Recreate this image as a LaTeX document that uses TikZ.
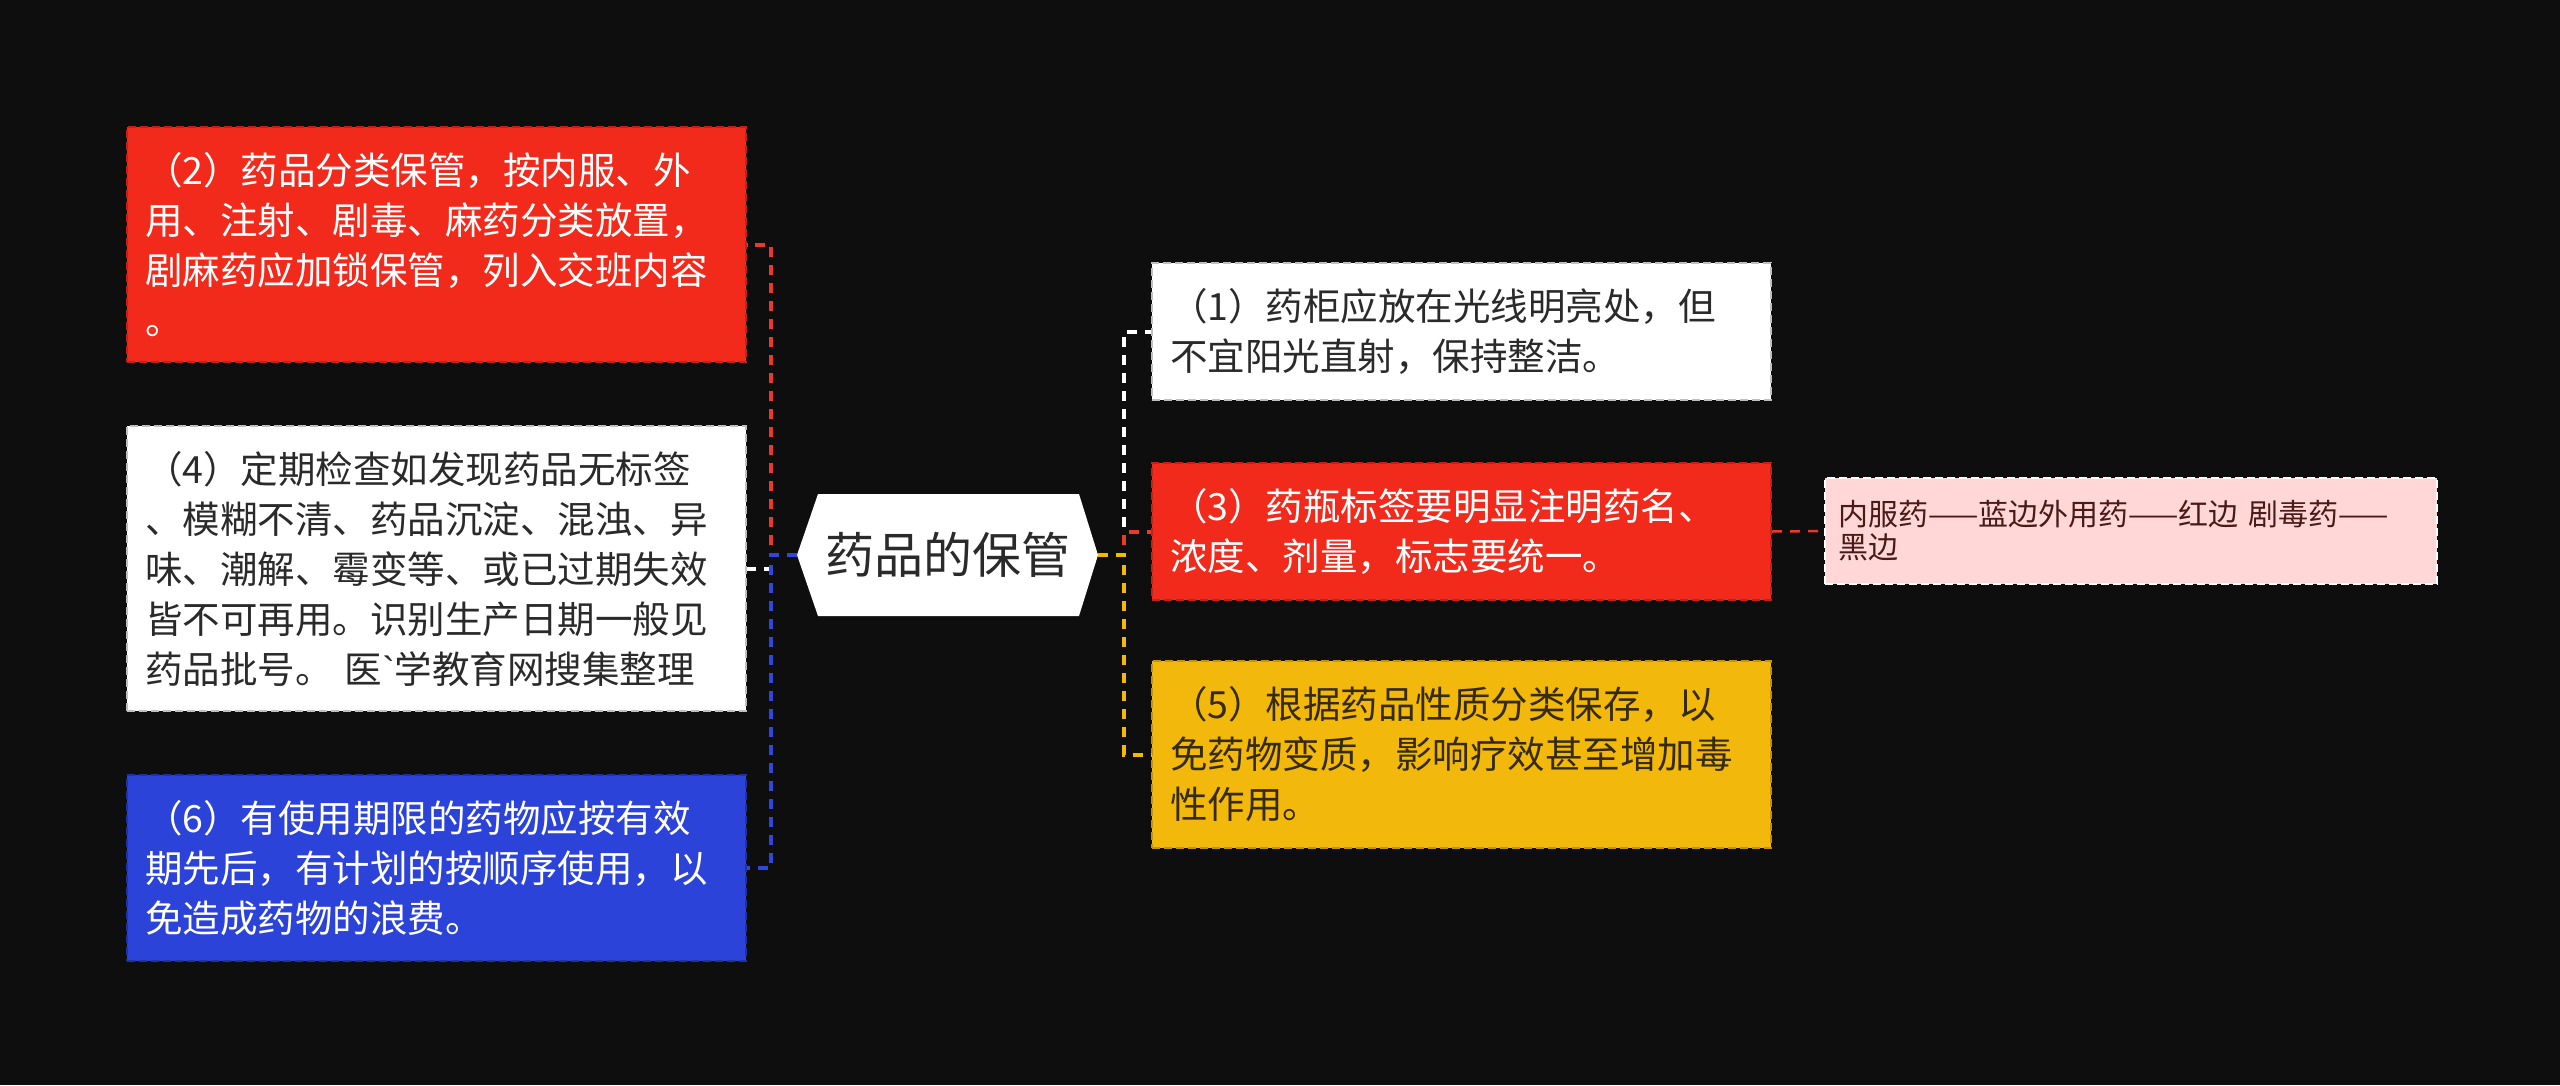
\documentclass[tikz,border=0pt]{standalone}
\usepackage{fontspec}
\setmainfont{Noto Sans CJK SC}
\newfontfamily\latinfont{Liberation Sans}
\definecolor{bg}{HTML}{0E0E0E}
\definecolor{cred}{HTML}{F12A1B}
\definecolor{cblue}{HTML}{2B43D8}
\definecolor{cyellow}{HTML}{F2B80B}
\definecolor{cpink}{HTML}{FFD7D6}
\definecolor{txtdark}{HTML}{2A2A2A}
\definecolor{txtyel}{HTML}{352B08}
\definecolor{txtleaf}{HTML}{4A1A18}
\definecolor{lred}{HTML}{E8392A}
\definecolor{lblue}{HTML}{2E48DC}
\definecolor{lyellow}{HTML}{F2B80B}
\begin{document}
\begin{tikzpicture}[x=1pt,y=-1pt,
  box/.style={anchor=north west, rectangle, inner xsep=18pt, inner ysep=0pt,
    text width=583pt, align=left, font=\fontsize{37.5}{50}\selectfont,
    line width=2pt, dash pattern=on 8pt off 4pt},
  redbox/.style={box, fill=cred, draw=cred!80!black, text=white},
  whitebox/.style={box, fill=white, draw=black!25, text=txtdark},
  bluebox/.style={box, fill=cblue, draw=cblue!75!black, text=white},
  yelbox/.style={box, fill=cyellow, draw=cyellow!80!black, text=txtyel},
  leafbox/.style={anchor=north west, rectangle, inner xsep=13pt, inner ysep=0pt,
    text width=586pt, align=left, font=\fontsize{30}{33}\selectfont,
    fill=cpink, draw=white, line width=2pt, dash pattern=on 8pt off 4pt, text=txtleaf},
  link/.style={line width=4pt, dash pattern=on 10pt off 8pt},
  thinlink/.style={line width=2.5pt, dash pattern=on 10pt off 8pt}]
\useasboundingbox (0,0) rectangle (2560,1085);
\fill[bg] (0,0) rectangle (2560,1085);

% central topic
\fill[white] (818,494) -- (1079,494) -- (1098,555) -- (1079,616) -- (818,616) -- (797,555) -- cycle;
\node[font=\fontsize{49}{58}\selectfont, text=txtdark, minimum width=301pt,
  minimum height=122pt, inner sep=0pt] (center) at (947.5,555) {药品的保管};

% left boxes
\node[redbox, minimum width=619pt, minimum height=235pt] (b2) at (126,126)
  {（2）药品分类保管，按内服、外\\用、注射、剧毒、麻药分类放置，\\剧麻药应加锁保管，列入交班内容\\。};
\node[whitebox, minimum width=619pt, minimum height=285pt] (b4) at (126,425)
  {（4）定期检查如发现药品无标签\\、模糊不清、药品沉淀、混浊、异\\味、潮解、霉变等、或已过期失效\\皆不可再用。识别生产日期一般见\\药品批号。 医{\latinfont\char96\relax}学教育网搜集整理};
\node[bluebox, minimum width=619pt, minimum height=186pt] (b6) at (126,774)
  {（6）有使用期限的药物应按有效\\期先后，有计划的按顺序使用，以\\免造成药物的浪费。};

% right boxes
\node[whitebox, minimum width=619pt, minimum height=137pt] (b1) at (1151,262)
  {（1）药柜应放在光线明亮处，但\\不宜阳光直射，保持整洁。};
\node[redbox, minimum width=619pt, minimum height=137pt] (b3) at (1151,462)
  {（3）药瓶标签要明显注明药名、\\浓度、剂量，标志要统一。};
\node[yelbox, minimum width=619pt, minimum height=187pt] (b5) at (1151,660)
  {（5）根据药品性质分类保存，以\\免药物变质，影响疗效甚至增加毒\\性作用。};

% leaf
\node[leafbox, minimum width=612pt, minimum height=106pt] (leaf) at (1824,477)
  {内服药——蓝边外用药——红边 剧毒药——\\黑边};

% connectors left
\draw[link, white] (center.west) -- ++(-26,0) |- (b4.east);
\draw[link, lred] (center.west) -- ++(-26,0) |- (b2.east);
\draw[link, lblue] (center.west) -- ++(-26,0) |- (b6.east);

% connectors right
\draw[link, white] (center.east) -- ++(26,0) |- (b1.west);
\draw[link, lred] (center.east) -- ++(26,0) |- (b3.west);
\draw[link, lyellow] (center.east) -- ++(26,0) |- (b5.west);

% to leaf
\draw[thinlink, lred] (b3.east) -- (leaf.west);
\end{tikzpicture}
\end{document}
